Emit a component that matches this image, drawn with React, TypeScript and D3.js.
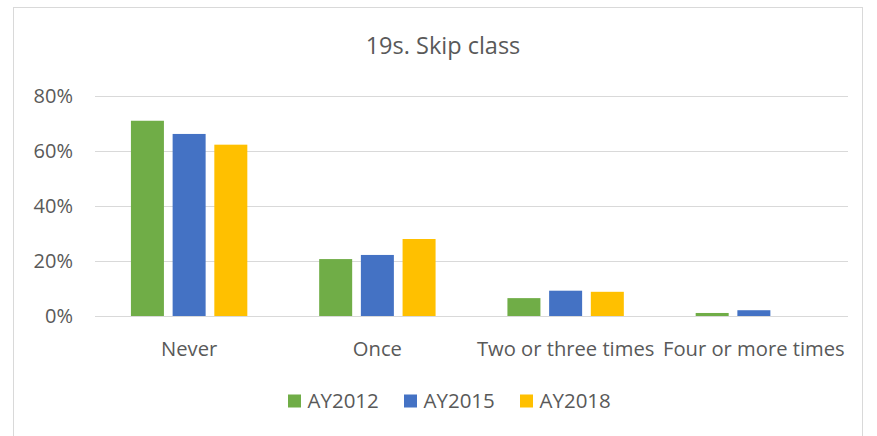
import React from "react";
import * as d3 from "d3";

const categories = ["Never", "Once", "Two or three times", "Four or more times"];
const seriesNames = ["AY2012", "AY2015", "AY2018"];
const ay2012 = [71.0, 20.7, 6.5, 1.1];
const ay2015 = [66.2, 22.2, 9.2, 2.1];
const ay2018 = [62.3, 28.0, 8.8, 0];
const yTicks = [0, 20, 40, 60, 80];
const colors = ["#70AD47", "#4472C4", "#FFC000"];
const title = "19s. Skip class";

const W = 877;
const H = 436;
const FONT = "'Open Sans', 'Noto Sans', sans-serif";
const TEXT = "#595959";

export default function App() {
  const series = [ay2012, ay2015, ay2018];
  const left = 95, right = 848, top = 96, bottom = 316;
  const x = d3.scaleBand<string>().domain(categories).range([left, right]).paddingInner(0).paddingOuter(0);
  const y = d3.scaleLinear().domain([0, 80]).range([bottom, top]);
  const barW = 33;
  const gap = 8.7;
  const groupW = barW * 3 + gap * 2;

  return (
    <div style={{ position: "absolute", left: 0, top: 0 }}>
      <svg width={W} height={H} style={{ display: "block", background: "#fff" }}>
        <rect x={13.5} y={7.5} width={849} height={440} fill="#fff" stroke="#D9D9D9" strokeWidth={1} />
        <text x={443} y={54} textAnchor="middle" fontFamily={FONT} fontSize={23.5} fill={TEXT}>
          {title}
        </text>
        {yTicks.map((t) => (
          <g key={t}>
            <line x1={left} x2={right} y1={Math.round(y(t)) + 0.5} y2={Math.round(y(t)) + 0.5} stroke="#D9D9D9" strokeWidth={1} />
            <text x={73} y={y(t) + 7} textAnchor="end" fontFamily={FONT} fontSize={20} fill={TEXT}>
              {t}%
            </text>
          </g>
        ))}
        {categories.map((c, ci) => {
          const cx = (x(c) as number) + x.bandwidth() / 2;
          return (
            <g key={c}>
              {series.map((s, si) => {
                const bx = cx - groupW / 2 + si * (barW + gap);
                const v = s[ci];
                if (v <= 0) return null;
                return (
                  <rect key={si} x={bx} y={y(v)} width={barW} height={y(0) - y(v)} fill={colors[si]} />
                );
              })}
              <text x={cx} y={356} textAnchor="middle" fontFamily={FONT} fontSize={20.2} fill={TEXT}>
                {c}
              </text>
            </g>
          );
        })}
        {(() => {
          const items = [288, 404, 520];
          return seriesNames.map((n, i) => (
            <g key={n}>
              <rect x={items[i]} y={394.5} width={13} height={13} fill={colors[i]} />
              <text x={items[i] + 19.5} y={408} fontFamily={FONT} fontSize={20.5} fill={TEXT}>
                {n}
              </text>
            </g>
          ));
        })()}
      </svg>
    </div>
  );
}
